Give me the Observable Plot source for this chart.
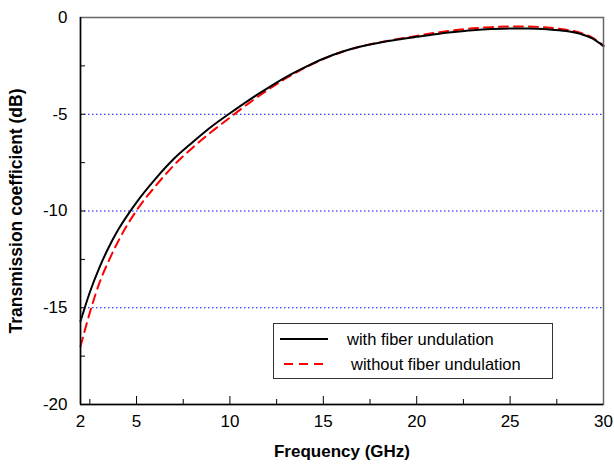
<!DOCTYPE html>
<html>
<head>
<meta charset="utf-8">
<script src="https://cdn.jsdelivr.net/npm/d3@7"></script>
<script src="https://cdn.jsdelivr.net/npm/@observablehq/plot@0.6"></script>
<style>
  html, body { margin: 0; padding: 0; background: #fff; }
  #wrap { position: relative; width: 614px; height: 464px; font-family: "Liberation Sans", Arial, sans-serif; }
  #legend { position: absolute; left: 273px; top: 323px; width: 280px; height: 56px; border: 1px solid #333; background: #fff; box-sizing: border-box; font-size: 16.5px; color: #000; }
  .row { position: absolute; left: 0; height: 20px; display: flex; align-items: center; }
  .row svg { margin-left: 6px; }
  .row span { position: absolute; white-space: nowrap; }
</style>
</head>
<body>
<div id="wrap"></div>
<script>
// Frequency (GHz) and transmission coefficient (dB)
const freq = [2.0, 2.5, 3.0, 3.5, 4.0, 5.0, 6.0, 7.0, 8.0, 9.0, 10.0, 11.0, 12.0, 13.0, 14.0, 15.0, 16.0, 17.0, 18.0, 19.0, 20.0, 21.0, 22.0, 23.0, 24.0, 25.0, 26.0, 27.0, 28.0, 28.8, 29.4, 30.0];
const withDb = [-15.7, -14.2, -12.95, -11.9, -11.0, -9.55, -8.35, -7.3, -6.45, -5.65, -4.95, -4.28, -3.66, -3.08, -2.58, -2.13, -1.77, -1.5, -1.3, -1.14, -1.0, -0.86, -0.75, -0.66, -0.6, -0.57, -0.57, -0.61, -0.7, -0.86, -1.08, -1.48];
const withoutDb = [-17.0, -15.25, -13.75, -12.6, -11.6, -9.97, -8.73, -7.64, -6.73, -5.92, -5.17, -4.44, -3.76, -3.14, -2.61, -2.15, -1.78, -1.5, -1.29, -1.11, -0.95, -0.79, -0.66, -0.56, -0.5, -0.47, -0.47, -0.52, -0.63, -0.8, -1.04, -1.45];

const seriesNames = ["with fiber undulation", "without fiber undulation"];
const xTickLabels = [2, 5, 10, 15, 20, 25, 30];
const xMajorTicks = [5, 10, 15, 20, 25];
const xMinorTicks = [2.5, 7.5, 12.5, 17.5, 22.5, 27.5];
const yTickLabels = [0, -5, -10, -15, -20];
const yMinorTicks = [-2.5, -5, -7.5, -10, -12.5, -15, -17.5];
const yGrid = [-5, -10, -15];
const xTitle = "Frequency (GHz)";
const yTitle = "Transmission coefficient (dB)";

const withData = freq.map((f, i) => ({f, db: withDb[i]}));
const withoutData = freq.map((f, i) => ({f, db: withoutDb[i]}));

const font = "Liberation Sans, Arial, sans-serif";

const chart = Plot.plot({
  width: 614,
  height: 464,
  marginLeft: 80,
  marginRight: 11,
  marginTop: 17,
  marginBottom: 60,
  style: {fontFamily: font, fontSize: "17px", color: "#000", background: "#fff"},
  x: {domain: [2, 30]},
  y: {domain: [-20, 0]},
  marks: [
    Plot.ruleY(yGrid, {stroke: "#0000ff", strokeWidth: 1, strokeDasharray: "1.5,2.5"}),
    Plot.line(withoutData, {x: "f", y: "db", stroke: "#ff0000", strokeWidth: 2, strokeDasharray: "9,6", curve: "monotone-x"}),
    Plot.line(withData, {x: "f", y: "db", stroke: "#000", strokeWidth: 2, curve: "monotone-x"}),
    Plot.frame({stroke: "#666", strokeWidth: 1.5}),
    Plot.ruleX([2], {stroke: "#000", strokeWidth: 1.5}),
    Plot.ruleY([-20], {stroke: "#000", strokeWidth: 1.5}),
    Plot.axisX({ticks: xTickLabels, tickSize: 0, tickPadding: 10, tickFormat: d => String(d), fontSize: 17, label: null}),
    Plot.axisX({ticks: xMajorTicks, tickSize: -8, tickFormat: () => "", label: null, stroke: "#000"}),
    Plot.axisX({ticks: xMinorTicks, tickSize: -5, tickFormat: () => "", label: null, stroke: "#000"}),
    Plot.axisY({ticks: yTickLabels, tickSize: 0, tickPadding: 13, tickFormat: d => String(d), fontSize: 17, label: null}),
    Plot.axisY({ticks: yMinorTicks, tickSize: -5, tickFormat: () => "", label: null, stroke: "#000"}),
    Plot.text([xTitle], {frameAnchor: "bottom", lineAnchor: "middle", dy: 47, fontWeight: "bold", fontSize: 17, text: d => d}),
    Plot.text([yTitle], {frameAnchor: "left", textAnchor: "middle", lineAnchor: "middle", dx: -64, rotate: -90, fontWeight: "bold", fontSize: 17.5, text: d => d})
  ]
});

const wrap = document.getElementById("wrap");
wrap.appendChild(chart);

// Legend overlay inside the plot area
const legend = document.createElement("div");
legend.id = "legend";
const styles = [
  {stroke: "#000", dash: null, textLeft: 73},
  {stroke: "#ff0000", dash: "9,6", textLeft: 77}
];
seriesNames.forEach((name, i) => {
  const row = document.createElement("div");
  row.className = "row";
  row.style.top = (5 + i * 25) + "px";
  row.style.width = "100%";
  const s = styles[i];
  row.innerHTML = `<svg width="50" height="20"><line x1="${i ? 4 : 0}" x2="48" y1="10" y2="10" stroke="${s.stroke}" stroke-width="2" ${s.dash ? `stroke-dasharray="${s.dash}"` : ""}/></svg><span style="left:${s.textLeft}px">${name}</span>`;
  legend.appendChild(row);
});
wrap.appendChild(legend);
</script>
</body>
</html>
